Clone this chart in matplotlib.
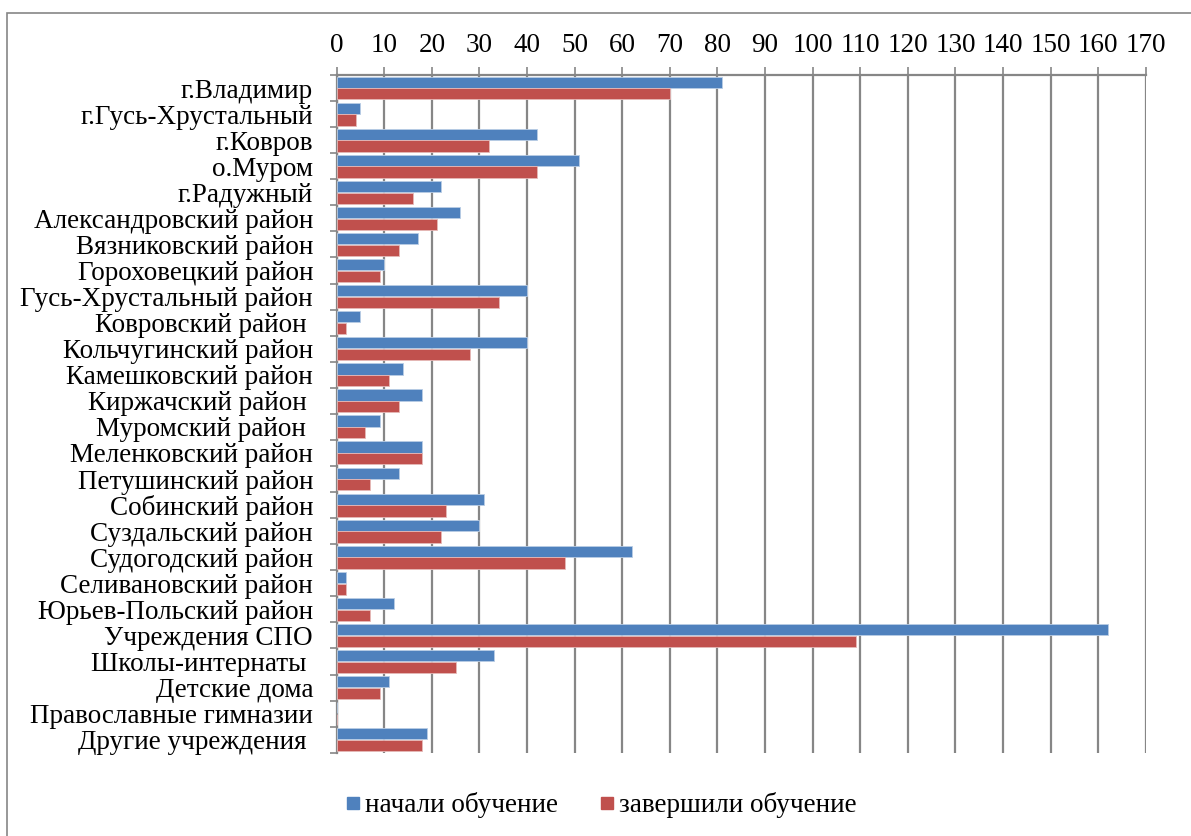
import numpy as np
import matplotlib.pyplot as plt
from matplotlib.patches import Rectangle
from matplotlib.lines import Line2D

plt.rcParams['font.family'] = ['Liberation Serif', 'DejaVu Serif']

categories = [
    "г.Владимир", "г.Гусь-Хрустальный", "г.Ковров", "о.Муром", "г.Радужный",
    "Александровский район", "Вязниковский район", "Гороховецкий район",
    "Гусь-Хрустальный район", "Ковровский район ", "Кольчугинский район",
    "Камешковский район", "Киржачский район ", "Муромский район ",
    "Меленковский район", "Петушинский район", "Собинский район",
    "Суздальский район", "Судогодский район", "Селивановский район",
    "Юрьев-Польский район", "Учреждения СПО", "Школы-интернаты ",
    "Детские дома", "Православные гимназии", "Другие учреждения ",
]
started = [81, 5, 42, 51, 22, 26, 17, 10, 40, 5, 40, 14, 18, 9, 18, 13,
           31, 30, 62, 2, 12, 162, 33, 11, 0, 19]
finished = [70, 4, 32, 42, 16, 21, 13, 9, 34, 2, 28, 11, 13, 6, 18, 7,
            23, 22, 48, 2, 7, 109, 25, 9, 0, 18]

blue = '#4F81BD'
red = '#C0504D'
grid_c = '#868686'

fig = plt.figure(figsize=(11.91, 8.36), dpi=100)
ax = fig.add_axes([0.2827, 0.0996, 0.6794, 0.8107])

y = np.arange(len(categories))
h = 0.43
ax.barh(y - 0.225, started, height=h, color=blue, edgecolor='#b9cde5', linewidth=0.6,
        label='начали обучение', zorder=3)
ax.barh(y + 0.225, finished, height=h, color=red, edgecolor='#e6b9b8', linewidth=0.6,
        label='завершили обучение', zorder=3)

ax.set_xlim(0, 170)
ax.set_ylim(len(categories) - 0.5, -0.5)
ax.set_xticks(np.arange(0, 171, 10))
ax.xaxis.tick_top()
ax.xaxis.grid(True, color=grid_c, linewidth=1.6, zorder=0)
ax.tick_params(axis='x', direction='out', length=6, width=1.2, color=grid_c,
               labelsize=19.5, pad=6)

ax.set_yticks(y)
ax.set_yticklabels(categories)
ax.set_yticks(np.arange(-0.5, len(categories), 1), minor=True)
ax.tick_params(axis='y', which='major', length=0, labelsize=19.5, pad=17)
ax.tick_params(axis='y', which='minor', direction='out', length=5, width=1.2, color=grid_c)

for side in ['bottom', 'right']:
    ax.spines[side].set_visible(False)
for side in ['top', 'left']:
    ax.spines[side].set_color(grid_c)
    ax.spines[side].set_linewidth(1.6)

handles = [Line2D([], [], marker='s', linestyle='none', markersize=9, color=blue),
           Line2D([], [], marker='s', linestyle='none', markersize=9, color=red)]
fig.legend(handles, ['начали обучение', 'завершили обучение'], loc='center',
           bbox_to_anchor=(0.503, 0.037), ncol=2, frameon=False, fontsize=19.5,
           handletextpad=0.05, columnspacing=1.4, handlelength=0.8)

# chart area frame, only top and left edges fall inside the picture
fig.add_artist(Rectangle((7 / 1191, -0.05), 1.2, 1.05 - 13 / 836,
                         transform=fig.transFigure, fill=False,
                         edgecolor=grid_c, linewidth=1.2, clip_on=False))

fig.savefig('out.png', dpi=100)
